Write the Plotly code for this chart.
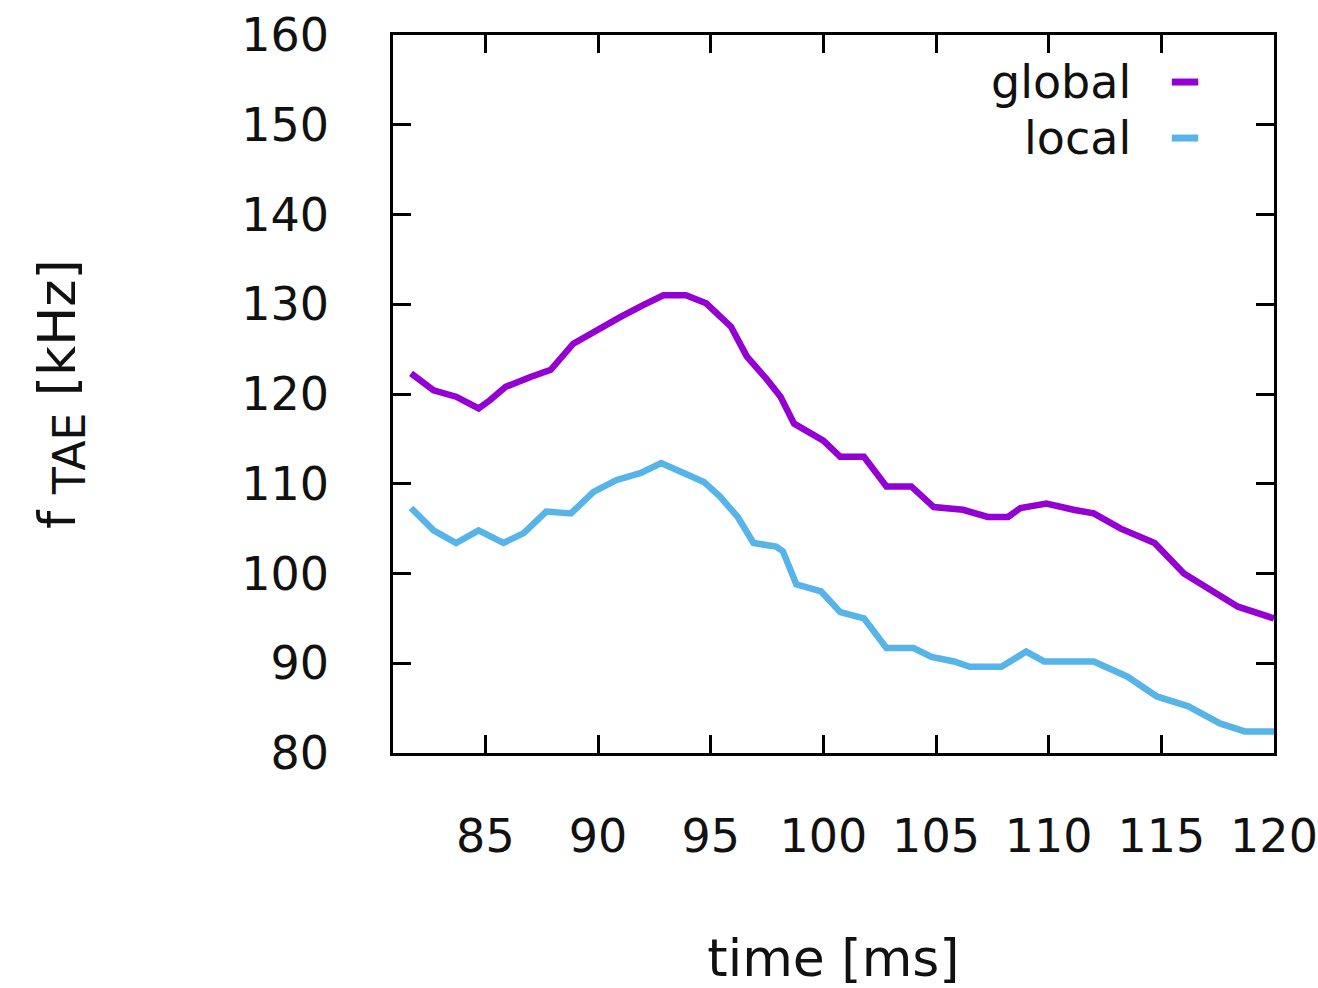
import plotly.graph_objects as go

# TAE frequency evolution, global vs local estimate
time_global = [81.7, 82.7, 83.7, 84.7, 85.2, 85.9, 87.0, 87.9, 88.9, 89.9,
               91.0, 92.0, 92.9, 93.9, 94.8, 95.9, 96.6, 97.5, 98.1, 98.7,
               99.4, 100.0, 100.75, 101.8, 102.8, 103.9, 104.9, 106.2, 107.3, 108.2,
               108.75, 109.9, 111.1, 112.0, 113.2, 114.7, 116.0, 117.2, 118.4, 120.0]
f_global = [122.3, 120.4, 119.7, 118.4, 119.3, 120.8, 121.9, 122.7, 125.6, 127.1,
            128.6, 129.9, 131.0, 131.0, 130.1, 127.5, 124.2, 121.6, 119.7, 116.7,
            115.6, 114.8, 113.0, 113.0, 109.7, 109.7, 107.4, 107.1, 106.3, 106.3,
            107.3, 107.8, 107.1, 106.7, 105.0, 103.4, 100.0, 98.2, 96.3, 95.0]

time_local = [81.7, 82.7, 83.7, 84.7, 85.8, 86.7, 87.7, 88.8, 89.8, 90.8,
              91.9, 92.8, 93.8, 94.7, 95.4, 96.2, 96.9, 97.9, 98.2, 98.8,
              99.9, 100.75, 101.8, 102.8, 104.0, 104.8, 105.8, 106.5, 107.9, 109.0,
              109.8, 112.0, 113.5, 114.8, 116.2, 117.6, 118.7, 120.0]
f_local = [107.3, 104.8, 103.4, 104.8, 103.4, 104.5, 106.9, 106.7, 109.1, 110.4,
           111.2, 112.3, 111.2, 110.2, 108.6, 106.3, 103.4, 103.0, 102.5, 98.8,
           98.0, 95.7, 95.0, 91.7, 91.7, 90.7, 90.2, 89.6, 89.6, 91.3,
           90.2, 90.2, 88.5, 86.3, 85.2, 83.3, 82.4, 82.4]

series_names = ["global", "local"]
series_colors = ["#9400D3", "#56B4E9"]

x_ticks = [85, 90, 95, 100, 105, 110, 115, 120]
y_ticks = [80, 90, 100, 110, 120, 130, 140, 150, 160]

FONT = "DejaVu Sans"
TEXT = "#111111"

fig = go.Figure()
for t, f, name, color in zip([time_global, time_local], [f_global, f_local],
                             series_names, series_colors):
    fig.add_trace(go.Scatter(x=t, y=f, mode="lines", name=name,
                             line=dict(color=color, width=6.5),
                             showlegend=False))

# gnuplot-style key: label on the left, short line sample on the right
key_y = [0.9345, 0.8565]
for name, color, ky in zip(series_names, series_colors, key_y):
    fig.add_annotation(xref="paper", yref="paper", x=0.840, y=ky,
                       text=name, showarrow=False, xanchor="right", yanchor="middle",
                       font=dict(family=FONT, size=46, color=TEXT))
    fig.add_shape(type="line", xref="paper", yref="paper",
                  x0=0.884, x1=0.914, y0=ky, y1=ky,
                  line=dict(color=color, width=7))

axis_common = dict(
    showline=True, linecolor="black", linewidth=2.5, mirror="allticks",
    ticks="inside", ticklen=18, tickwidth=2.5, tickcolor="black",
    showgrid=False, zeroline=False, automargin=False,
    tickfont=dict(family=FONT, size=46, color=TEXT),
)

fig.update_xaxes(range=[80.9, 120], tickvals=x_ticks,
                 ticklabelstandoff=41,
                 title=dict(text="time [ms]", standoff=78,
                            font=dict(family=FONT, size=52, color=TEXT)),
                 **axis_common)
fig.update_yaxes(range=[80, 160], tickvals=y_ticks,
                 ticklabelstandoff=52,
                 title=dict(text="f <sub><span style='font-size:44px'>TAE</span></sub> [kHz]",
                            standoff=150,
                            font=dict(family=FONT, size=52, color=TEXT)),
                 **axis_common)

fig.update_layout(
    width=1318, height=988,
    margin=dict(l=393, r=44, t=35, b=235),
    plot_bgcolor="white", paper_bgcolor="white",
    font=dict(family=FONT, color=TEXT),
)

fig.write_html("out.html")
